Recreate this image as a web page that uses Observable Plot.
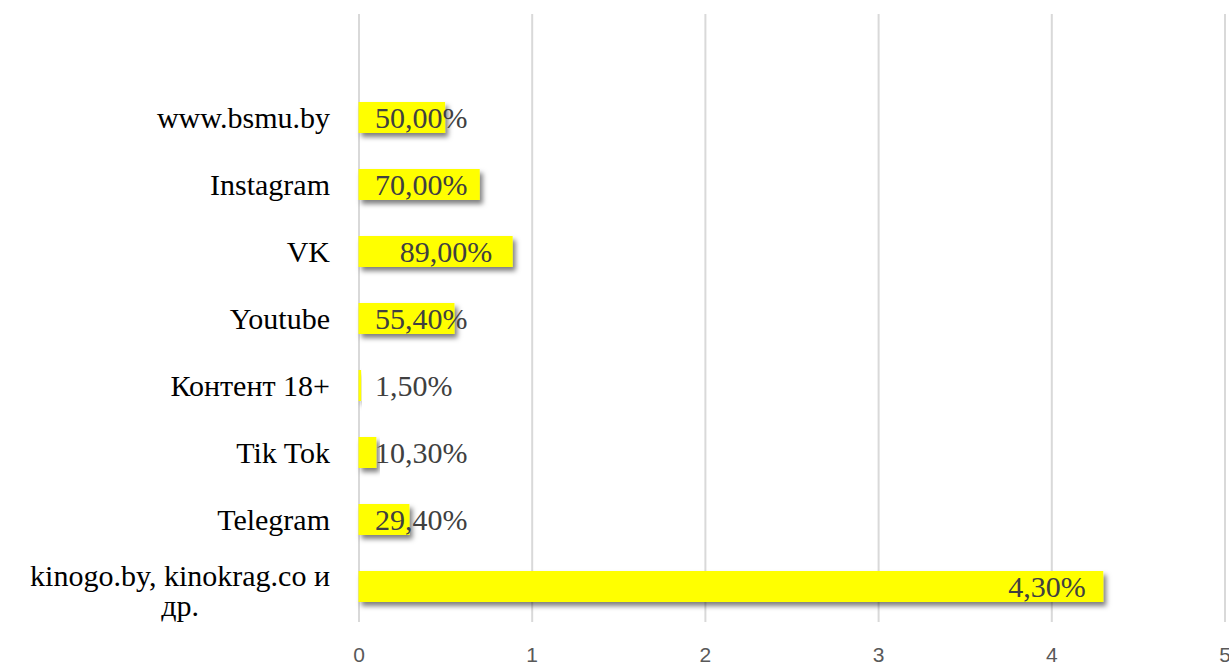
<!DOCTYPE html>
<html>
<head>
<meta charset="utf-8">
<script src="https://cdn.jsdelivr.net/npm/d3@7"></script>
<script src="https://cdn.jsdelivr.net/npm/@observablehq/plot@0.6"></script>
<style>
  html, body { margin: 0; padding: 0; background: #fff; }
  #chart { width: 1229px; height: 664px; }
</style>
</head>
<body>
<div id="chart"></div>
<script>
const categories = ["www.bsmu.by", "Instagram", "VK", "Youtube", "Контент 18+", "Tik Tok", "Telegram", "kinogo.by, kinokrag.co и др."];
const values = [0.5, 0.7, 0.89, 0.554, 0.015, 0.103, 0.294, 4.3];
const valueLabels = ["50,00%", "70,00%", "89,00%", "55,40%", "1,50%", "10,30%", "29,40%", "4,30%"];
const labelPlacement = ["base", "base", "center", "base", "base", "base", "base", "end"];
const xTicks = [0, 1, 2, 3, 4, 5];

const rows = categories.map((c, i) => ({cat: c, v: values[i], label: valueLabels[i], pos: labelPlacement[i]}));
const longName = categories[categories.length - 1];

const serif = "'Liberation Serif', 'Times New Roman', serif";
const sans = "'Liberation Sans', Arial, sans-serif";

const plot = Plot.plot({
  width: 1229,
  height: 664,
  marginLeft: 358.5,
  marginRight: 4.5,
  marginTop: 14,
  marginBottom: 42,
  style: {background: "#fff", overflow: "visible"},
  x: {domain: [0, 5], axis: null},
  y: {domain: [" ", ...categories], padding: 0, axis: null},
  marks: [
    Plot.ruleX(xTicks, {stroke: "#d9d9d9", strokeWidth: 2, strokeOpacity: 1}),
    Plot.barX(rows, {x: "v", y: "cat", fill: "#ffff00", insetTop: 18, insetBottom: 18}),
    Plot.text(rows.filter(d => d.pos === "base"), {x: 0, y: "cat", text: "label", textAnchor: "start", dx: 16, fontSize: 30, fontFamily: serif, fill: "#404040"}),
    Plot.text(rows.filter(d => d.pos === "center"), {x: d => d.v / 2, y: "cat", text: "label", textAnchor: "middle", dx: 10, fontSize: 30, fontFamily: serif, fill: "#404040"}),
    Plot.text(rows.filter(d => d.pos === "end"), {x: "v", y: "cat", text: "label", textAnchor: "end", dx: -18, fontSize: 30, fontFamily: serif, fill: "#404040"}),
    // x tick labels
    Plot.text(xTicks, {x: d => d, frameAnchor: "bottom", lineAnchor: "middle", dy: 33, text: d => String(d), fontSize: 21, fontFamily: sans, fill: "#595959"}),
    Plot.axisY(categories, {label: null, tickSize: 0, tickPadding: 29, fontSize: 30, fontFamily: serif, fill: "#000", lineHeight: 1.0,
      tickFormat: d => d === longName ? "kinogo.by, kinokrag.co и\nдр." : d})
  ]
});

document.getElementById("chart").appendChild(plot);

const svg = d3.select(plot);

// drop shadow on bars
const defs = svg.insert("defs", ":first-child");
const f = defs.append("filter").attr("id", "barShadow").attr("x", "-10%").attr("y", "-30%").attr("width", "130%").attr("height", "190%");
f.append("feDropShadow").attr("dx", 3).attr("dy", 4).attr("stdDeviation", 2.5).attr("flood-color", "#000").attr("flood-opacity", 0.5);
svg.selectAll("g[aria-label='bar'] rect").attr("filter", "url(#barShadow)");

// centre the two-line category label under its first line
svg.selectAll("g[aria-label='y-axis tick label'] text").each(function() {
  const t = d3.select(this);
  const tspans = t.selectAll("tspan");
  if (tspans.size() > 1) {
    const bb = this.getBBox();
    const right = bb.x + bb.width;
    const cx = right - bb.width / 2;
    t.attr("text-anchor", "middle");
    const tr = t.attr("transform") || "";
    t.attr("transform", tr + ` translate(${cx - right},4)`);
  }
});
</script>
</body>
</html>
